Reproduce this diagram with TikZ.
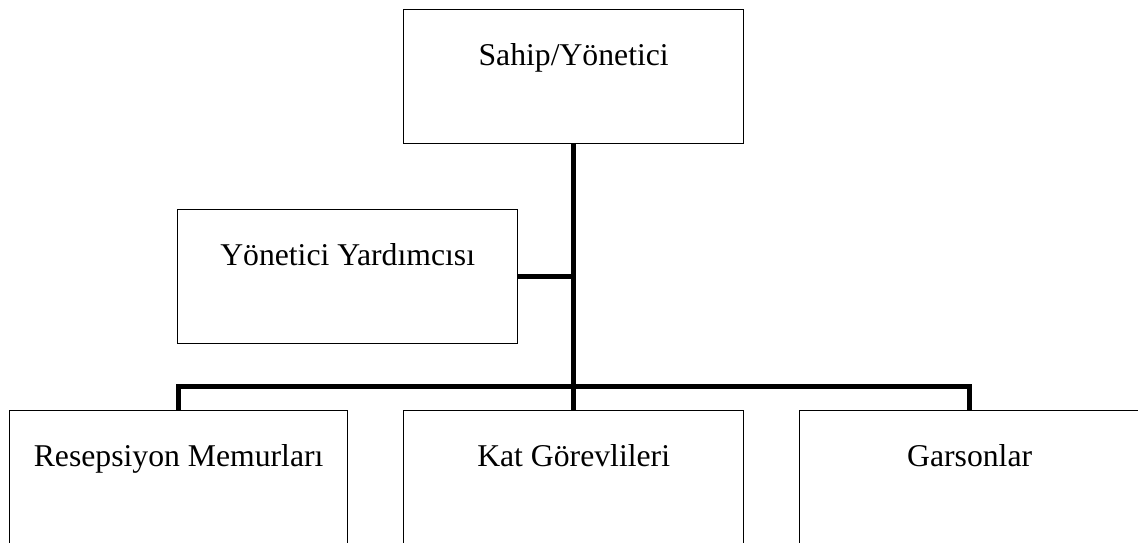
\documentclass[tikz,border=0pt]{standalone}
\usepackage{fontspec}
\setmainfont{Liberation Serif}
\begin{document}
\begin{tikzpicture}[x=1pt,y=1pt,
  orgbox/.style={draw=black, line width=1.3pt, fill=white, anchor=north west,
    inner xsep=0pt, inner ysep=0pt, text height=56pt, text depth=78pt,
    font=\fontsize{31.7}{38}\selectfont},
  conn/.style={draw=black, line width=5pt, line join=miter}]
  \useasboundingbox (0,0) rectangle (1138,542);
  \clip (0,0) rectangle (1138,542);
  % boxes
  \node[orgbox, minimum width=340pt] (boss) at (403,533) {Sahip/Yönetici};
  \node[orgbox, minimum width=340pt] (asst) at (177,333) {Yönetici Yardımcısı};
  \node[orgbox, minimum width=338pt] (recep) at (9,132) {Resepsiyon Memurları};
  \node[orgbox, minimum width=340pt] (house) at (403,132) {Kat Görevlileri};
  \node[orgbox, minimum width=340pt] (wait) at (799,132) {Garsonlar};
  % connectors
  \draw[conn] (boss.south) -- (house.north);
  \draw[conn] (asst.east) -- (asst.east -| boss.south);
  \draw[conn] (recep.north) -- ++(0,24) -| (wait.north);
\end{tikzpicture}
\end{document}
